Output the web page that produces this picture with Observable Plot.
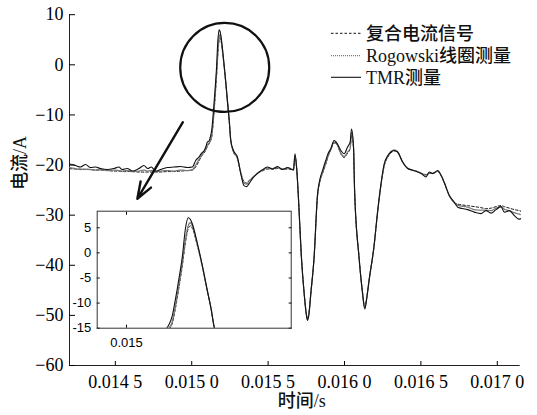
<!DOCTYPE html>
<html><head><meta charset="utf-8">
<script src="https://cdn.jsdelivr.net/npm/d3@7"></script>
<script src="https://cdn.jsdelivr.net/npm/@observablehq/plot@0.6"></script>
<style>
html,body{margin:0;padding:0;background:#fff;}
#wrap{position:relative;width:537px;height:415px;overflow:hidden;background:#fff;}
#inset{position:absolute;left:62px;top:206px;}
</style></head><body><div id="wrap"><div id="main"></div><div id="inset"></div></div>
<script>
// ---- data (time in s, current in A) ----
const time = [
  0.014200,0.014239,0.014272,0.014305,0.014338,0.014370,0.014403,0.014447,0.014490,0.014523,0.014545,0.014578,0.014611,0.014654,0.014687,0.014713,0.014735,0.014764,0.014796,0.014840,0.014883,0.014927,0.014971,0.015004,
  0.015026,0.015047,0.015065,0.015080,0.015093,0.015102,
  0.015113,0.015123,0.015133,0.015140,0.015147,0.015155,0.015162,0.015171,0.015179,0.015185,0.015191,0.015205,0.015220,0.015234,0.015246,0.015255,
  0.015273,0.015299,0.015321,0.015342,0.015360,0.015375,0.015400,0.015430,0.015460,0.015496,0.015529,0.015562,0.015595,0.015628,0.015655,0.015666,0.015676,0.015688,
  0.015696,0.015718,0.015737,0.015750,0.015758,0.015767,0.015780,0.015801,0.015823,
  0.015840,0.015856,0.015877,0.015892,0.015910,0.015932,0.015954,0.015976,0.015998,0.016020,0.016037,0.016046,0.016059,
  0.016066,0.016095,0.016116,0.016133,0.016146,0.016161,0.016194,0.016216,0.016233,
  0.016260,0.016282,0.016304,0.016325,0.016347,0.016380,0.016413,0.016442,0.016479,0.016507,0.016533,0.016555,0.016577,0.016610,0.016631,0.016653,0.016686,0.016718,
  0.016741,0.016806,0.016850,0.016893,0.016926,0.016959,0.016992,0.017024,0.017046,0.017079,0.017112,0.017144,0.017153
];
const tmr = [
  -19.8,-20.1,-20.4,-19.9,-20.5,-20.4,-20.7,-20.9,-20.7,-20.4,-20.9,-20.7,-21.2,-20.7,-20.1,-20.7,-20.4,-21.2,-20.9,-20.5,-20.4,-20.3,-20.5,-20.4,
  -19.1,-18.4,-17.6,-17.2,-16.3,-15.4,
  -15.2,-14.3,-12.5,-10.0,-7.3,-4.0,-0.8,4.8,7.0,6.7,5.8,2.1,-2.5,-7.3,-11.3,-14.9,
  -17.1,-18.4,-21.7,-24.1,-24.3,-23.7,-22.6,-21.7,-21.0,-20.4,-20.8,-20.3,-20.9,-20.5,-20.9,-21.0,-17.75,-21.1,
  -25.1,-38.4,-46.0,-49.8,-51.0,-49.8,-45.5,-38.4,-26.0,
  -22.7,-21.1,-19.1,-17.75,-16.75,-15.1,-15.8,-17.1,-17.75,-16.4,-15.4,-12.8,-16.4,
  -25.0,-38.4,-45.0,-48.7,-46.5,-43.0,-36.0,-29.5,-25.1,
  -19.75,-18.2,-17.4,-17.1,-17.4,-19.4,-20.7,-21.0,-21.4,-21.8,-22.4,-21.4,-21.7,-21.1,-22.0,-23.5,-26.1,-27.4,
  -28.4,-28.9,-29.4,-29.7,-29.1,-29.6,-28.9,-28.3,-29.4,-29.1,-30.1,-30.8,-30.7
];
const rogowski = [
  -20.5,-20.7,-20.9,-20.8,-20.9,-21.0,-20.9,-21.1,-21.0,-21.1,-21.2,-21.1,-21.3,-21.2,-21.0,-21.2,-21.1,-21.3,-21.2,-21.1,-21.2,-21.0,-21.1,-20.9,
  -20.0,-18.9,-17.9,-17.3,-16.8,-16.0,
  -15.6,-15.0,-13.6,-11.3,-8.6,-5.2,-2.0,2.6,5.4,6.0,5.4,1.9,-2.6,-7.3,-11.3,-14.9,
  -17.3,-18.6,-21.5,-23.6,-23.8,-23.2,-22.5,-21.6,-21.1,-20.6,-20.7,-20.5,-20.8,-20.6,-20.8,-20.9,-18.2,-21.1,
  -25.1,-38.4,-46.0,-49.7,-50.8,-49.7,-45.5,-38.4,-26.2,
  -23.0,-21.5,-19.6,-18.2,-16.9,-15.4,-16.0,-17.6,-18.3,-17.4,-16.6,-13.5,-16.4,
  -25.0,-38.4,-45.0,-48.5,-46.4,-43.0,-36.0,-29.5,-25.2,
  -20.0,-18.3,-17.3,-17.0,-17.3,-19.3,-20.6,-21.0,-21.3,-21.7,-22.0,-21.6,-21.7,-21.2,-22.0,-23.5,-26.1,-27.5,
  -28.0,-28.4,-28.9,-29.0,-29.0,-29.1,-28.6,-28.3,-28.8,-29.1,-29.5,-29.8,-29.9
];
const composite = [
  -20.7,-20.8,-20.8,-20.9,-20.9,-21.0,-21.0,-21.1,-21.2,-21.2,-21.3,-21.3,-21.3,-21.4,-21.4,-21.4,-21.4,-21.4,-21.4,-21.3,-21.3,-21.2,-21.1,-21.0,
  -20.4,-19.2,-18.2,-17.6,-17.0,-16.3,
  -15.8,-15.2,-14.0,-11.8,-9.1,-5.7,-2.6,2.0,4.8,5.4,4.9,1.6,-2.7,-7.4,-11.4,-15.0,
  -17.4,-18.7,-21.5,-23.3,-23.6,-23.1,-22.4,-21.6,-21.2,-20.8,-20.8,-20.7,-20.8,-20.8,-20.9,-21.0,-18.6,-21.1,
  -25.1,-38.4,-45.9,-49.6,-50.6,-49.6,-45.4,-38.4,-26.4,
  -23.2,-21.7,-19.9,-18.4,-17.0,-15.6,-16.1,-17.8,-18.5,-17.6,-16.8,-14.0,-16.6,
  -25.0,-38.3,-44.9,-48.3,-46.3,-42.9,-36.0,-29.6,-25.3,
  -20.2,-18.5,-17.6,-17.2,-17.4,-19.4,-20.6,-21.0,-21.3,-21.7,-21.9,-21.7,-21.6,-21.3,-22.0,-23.5,-26.1,-27.5,
  -27.8,-28.1,-28.3,-28.5,-28.7,-28.6,-28.3,-28.1,-28.3,-28.6,-28.9,-29.1,-29.2
];
const seriesNames = ["复合电流信号", "Rogowski线圈测量", "TMR测量"];
const xTicks = [0.0145, 0.0150, 0.0155, 0.0160, 0.0165, 0.0170];
const yTicks = [-60, -50, -40, -30, -20, -10, 0, 10];
const xDomain = [0.0142, 0.01715];
const yDomain = [-60, 10];
const insetXDomain = [0.014915, 0.015478];
const insetYDomain = [-15, 8.3];
const insetXTicks = [0.015];
const insetYTicks = [5, 0, -5, -10, -15];
const circleAt = [{t: 0.015216, v: -0.53}];
const arrowAt = [{t1: 0.014942, v1: -11.45, t2: 0.014644, v2: -26.73}];
const xTitle = "时间/s";
const yTitle = "电流/A";

// ---- build ----
const serif = "'Liberation Serif','Times New Roman','Noto Sans CJK SC',serif";
const sans = "'Liberation Sans',Arial,sans-serif";
const valueSets = [composite, rogowski, tmr];
const seriesRows = valueSets.map(vals => time.map((t, i) => ({t, v: vals[i]})));
const styles = [
  {stroke: "#111", strokeWidth: 1, strokeDasharray: "2.5,2"},
  {stroke: "#777", strokeWidth: 1.3, strokeDasharray: "1,1"},
  {stroke: "#111", strokeWidth: 1.1}
];
const lineMarks = (clip) => seriesRows.map((rows, k) =>
  Plot.line(rows, {x: "t", y: "v", curve: "monotone-x", clip, ...styles[k]}));

const fmtX = d => { const s = d.toFixed(4); return s.slice(0, 5) + " " + s.slice(5); };
const fmtY = d => d < 0 ? "\u2212" + (-d) : String(d);

const main = Plot.plot({
  width: 537, height: 415,
  marginLeft: 69, marginRight: 17.3, marginTop: 14.2, marginBottom: 50,
  style: {background: "white", color: "black", fontFamily: serif},
  x: {domain: xDomain, label: null},
  y: {domain: yDomain, label: null},
  marks: [
    Plot.ruleY([yDomain[0]], {stroke: "#222", strokeWidth: 1}),
    Plot.ruleX([xDomain[0]], {stroke: "#222", strokeWidth: 1}),
    Plot.axisX(xTicks, {tickSize: -4, tickPadding: 14, fontSize: 18, fontFamily: serif, tickFormat: fmtX, label: null}),
    Plot.axisY(yTicks, {tickSize: -6, tickPadding: 12, fontSize: 18, fontFamily: serif, tickFormat: fmtY, label: null}),
    ...lineMarks(false),
    Plot.dot(circleAt, {x: "t", y: "v", r: 44.5, stroke: "#111", strokeWidth: 2.2, fill: "none"}),
    Plot.arrow(arrowAt, {x1: "t1", y1: "v1", x2: "t2", y2: "v2", stroke: "#111", strokeWidth: 2.4, headLength: 11, headAngle: 40}),
    Plot.text([yTitle], {text: d => d, frameAnchor: "left", dx: -49, rotate: -90, fontSize: 18, fontFamily: serif, fontWeight: 500, fill: "#111"}),
    Plot.text([xTitle], {text: d => d, frameAnchor: "bottom", dx: 7, dy: 41, fontSize: 18, fontFamily: serif, fontWeight: 500, fill: "#111"})
  ]
});
document.getElementById("main").appendChild(main);

// legend
const lg = d3.select(main).append("g").attr("text-anchor", "start");
const legendY = [33.3, 55.7, 77.3];
seriesNames.forEach((name, k) => {
  const s = styles[k];
  lg.append("line").attr("x1", 331).attr("x2", 361).attr("y1", legendY[k]).attr("y2", legendY[k])
    .attr("stroke", s.stroke).attr("stroke-width", s.strokeWidth)
    .attr("stroke-dasharray", s.strokeDasharray || null);
  lg.append("text").attr("x", 366).attr("y", legendY[k]).attr("dy", "0.35em")
    .attr("text-anchor", "start").attr("font-weight", 500)
    .attr("font-size", 18).attr("font-family", serif).attr("fill", "#111").text(name);
});

const inset = Plot.plot({
  width: 236, height: 147,
  marginLeft: 34.7, marginRight: 7.3, marginTop: 4.7, marginBottom: 25.3,
  style: {background: "transparent", color: "black", overflow: "visible"},
  x: {domain: insetXDomain, label: null},
  y: {domain: insetYDomain, label: null},
  marks: [
    Plot.frame({fill: "white", stroke: null}),
    ...lineMarks(true),
    Plot.axisX(insetXTicks, {tickSize: -3, tickPadding: 13, fontSize: 13, fontFamily: sans, tickFormat: d => d.toFixed(3), label: null}),
    Plot.axisX(insetXTicks, {anchor: "top", tickSize: -3, tickFormat: () => "", label: null}),
    Plot.axisY(insetYTicks, {tickSize: -3, tickPadding: 9, fontSize: 13, fontFamily: sans, tickFormat: d => String(d), label: null}),
    Plot.axisY(insetYTicks, {anchor: "right", tickSize: -3, tickFormat: () => "", label: null}),
    Plot.frame({stroke: "#333", strokeWidth: 1})
  ]
});
document.getElementById("inset").appendChild(inset);
</script></body></html>
